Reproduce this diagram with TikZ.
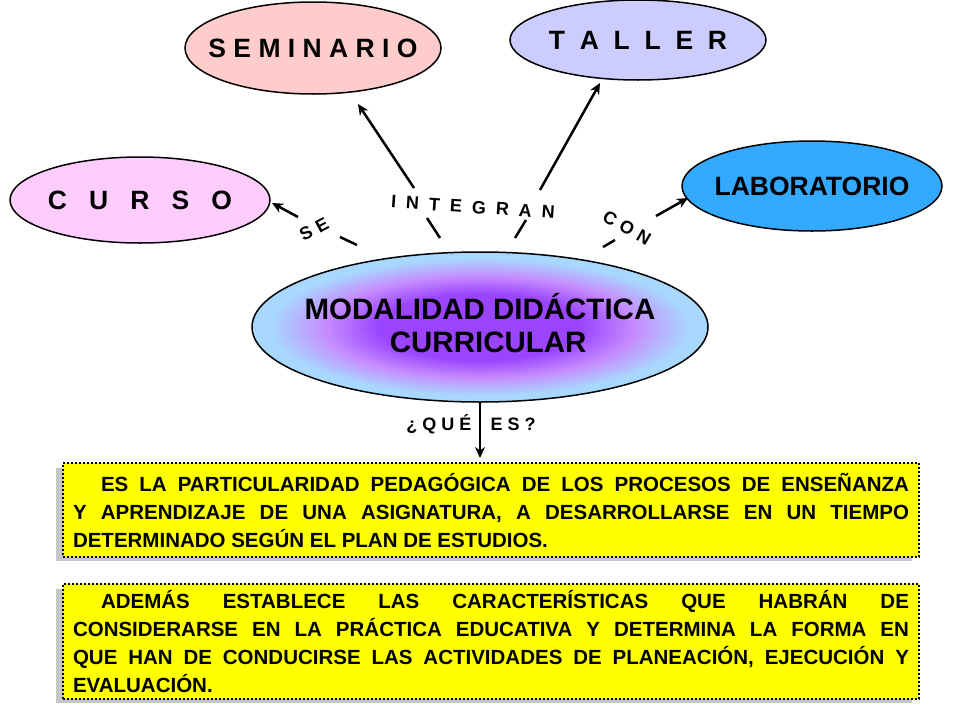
\documentclass[tikz,border=0pt]{standalone}
\usepackage{fontspec}
\setmainfont{Liberation Sans}
\usetikzlibrary{shapes.geometric,arrows.meta}
\definecolor{semc}{HTML}{FFCCCC}
\definecolor{talc}{HTML}{CCCCFF}
\definecolor{curc}{HTML}{FFCCFF}
\definecolor{labc}{HTML}{33AAFF}
\definecolor{inner}{HTML}{9A44FF}
\definecolor{mid}{HTML}{C68CFF}
\definecolor{outer}{HTML}{A8D8FF}
\definecolor{boxy}{HTML}{FFFF00}
\pgfdeclareradialshading{modshade}{\pgfpoint{0bp}{0bp}}{color(0bp)=(inner);color(11bp)=(inner);color(17bp)=(mid);color(23bp)=(outer);color(25bp)=(outer);color(50bp)=(outer)}
\tikzset{
 oval/.style={draw,line width=1.5pt},
 arr/.style={line width=2.5pt,-{Stealth[length=11pt,width=10pt]}},
 seg/.style={line width=2.5pt},
 lbl/.style={font=\bfseries\fontsize{18}{18}\selectfont},
 big/.style={font=\bfseries\fontsize{26.5}{26.5}\selectfont},
 txtbox/.style={draw,dotted,line width=2pt,fill=boxy,minimum width=856pt,anchor=north west,text width=836pt,align=justify,inner sep=0pt,font=\bfseries\fontsize{20.5}{28}\selectfont},
}
\begin{document}
\begin{tikzpicture}[x=1pt,y=-1pt]
\useasboundingbox (0,0) rectangle (960,720);
% ellipses
\draw[oval,fill=semc] (313,48) ellipse [x radius=128,y radius=46];
\node[big] (sem) at (313,48) {S E M I N A R I O};
\draw[oval,fill=talc] (638,40) ellipse [x radius=128,y radius=40];
\node[big] (tal) at (638,40) {T\ \ A\ \ L\ \ L\ \ E\ \ R};
\draw[oval,fill=curc] (140,200) ellipse [x radius=130,y radius=43];
\node[big] (cur) at (140,200) {C\ \ \ U\ \ \ R\ \ \ S\ \ \ O};
\draw[oval,fill=labc] (812,186) ellipse [x radius=130,y radius=45];
\node[big] (lab) at (812,186) {LABORATORIO};
\path[shading=modshade] (480,327) ellipse [x radius=228,y radius=75];
\draw[oval] (480,327) ellipse [x radius=228,y radius=75];
\node[align=center,font=\bfseries\fontsize{29.5}{33}\selectfont] (mod) at (480,323) {MODALIDAD DIDÁCTICA\\ \ \ CURRICULAR};
% connectors
\coordinate (a1) at (357,245); \coordinate (a2) at (340,237);
\coordinate (a3) at (298,217); \coordinate (a4) at (272,203);
\draw[seg] (a1) -- (a2);
\draw[arr] (a3) -- (a4);
\node[lbl,rotate=28] (se) at (314,229) {S\,\,E};
\coordinate (b1) at (440,238); \coordinate (b2) at (427,218);
\coordinate (b3) at (414,188); \coordinate (b4) at (358,104);
\draw[seg] (b1) -- (b2);
\draw[arr] (b3) -- (b4);
\coordinate (c1) at (515,238); \coordinate (c2) at (526,220);
\coordinate (c3) at (540,190); \coordinate (c4) at (600,83);
\draw[seg] (c1) -- (c2);
\draw[arr] (c3) -- (c4);
\node[lbl,rotate=-4] (int) at (473,207) {I\ \ N\ \ T\ \ E\ \ G\ \ R\ \ A\ \ N};
\coordinate (d1) at (603,247); \coordinate (d2) at (615,240);
\coordinate (d3) at (656,216); \coordinate (d4) at (688,198);
\draw[seg] (d1) -- (d2);
\draw[arr] (d3) -- (d4);
\node[lbl,rotate=-30] (con) at (627,228) {C\,\,O\,\,N};
\coordinate (p) at (480,402);
\coordinate (q) at (480,458);
\draw[arr] (p) -- (q);
\node[lbl,anchor=east] (que) at (475,424) {¿\ Q\ U\ É};
\node[lbl,anchor=west] (es) at (487,424) {E\ S\ ?};
% boxes
\fill[gray!45] (56,468) rectangle (912,561);
\node[txtbox,minimum height=94pt] (t1) at (62,462) {\parindent=28pt\indent ES LA PARTICULARIDAD PEDAGÓGICA DE LOS PROCESOS DE ENSEÑANZA\linebreak Y APRENDIZAJE DE UNA ASIGNATURA, A DESARROLLARSE EN UN TIEMPO\linebreak DETERMINADO SEGÚN EL PLAN DE ESTUDIOS.};
\fill[gray!45] (56,589) rectangle (912,703);
\node[txtbox,minimum height=115pt] (t2) at (62,583) {\parindent=28pt\indent ADEMÁS ESTABLECE LAS CARACTERÍSTICAS QUE HABRÁN DE\linebreak CONSIDERARSE EN LA PRÁCTICA EDUCATIVA Y DETERMINA LA FORMA EN\linebreak QUE HAN DE CONDUCIRSE LAS ACTIVIDADES DE PLANEACIÓN, EJECUCIÓN Y\linebreak EVALUACIÓN.};
\end{tikzpicture}
\end{document}
